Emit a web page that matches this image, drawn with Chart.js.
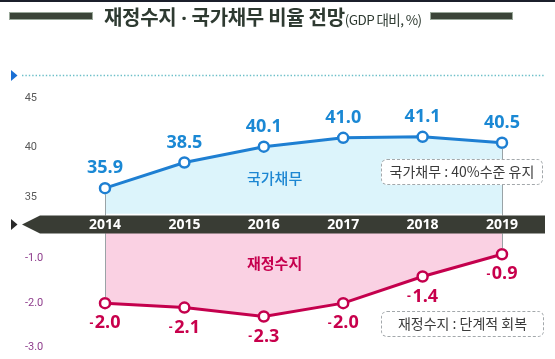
<!DOCTYPE html>
<html><head><meta charset="utf-8">
<script src="https://cdn.jsdelivr.net/npm/chart.js@4.4.1/dist/chart.umd.min.js"></script>
<style>
html,body{margin:0;padding:0;background:#fff;overflow:hidden}
#wrap{position:relative;width:555px;height:359px;background:#fff;font-family:"Noto Sans CJK KR","Noto Sans",sans-serif}
#c{position:absolute;left:0;top:0}
.ov{position:absolute;white-space:nowrap}
.bar{position:absolute;height:6px;background:#3b4438;top:13px;box-shadow:0 0 0 1px #9aa89a}
.note{position:absolute;border:1.3px dashed #a3a8ab;border-radius:6px;box-sizing:border-box;color:#3a3a3a;font-size:14px;line-height:23px;text-align:center;background:#fff}
</style></head>
<body><div id="wrap">
<canvas id="c" width="555" height="359"></canvas>
<div class="ov" style="left:0;top:0;width:555px;height:2px;background:#1b1f2b"></div>
<div class="bar" style="left:10px;width:82px"></div>
<div class="bar" style="left:431px;width:81px"></div>
<div class="ov" style="left:104px;top:3px;color:#2e3a31;font-weight:700;font-size:20px;line-height:28px;letter-spacing:-0.3px">재정수지<span style="font-family:'Noto Sans',sans-serif"> · </span>국가채무 비율 전망<span style="font-size:13.5px;font-weight:400;letter-spacing:-0.6px">(GDP 대비, %)</span></div>
<div class="ov" style="left:247px;top:167px;color:#1c86d2;font-size:15px;font-weight:500;line-height:22px">국가채무</div>
<div class="ov" style="left:247px;top:252px;color:#c6004e;font-size:15px;font-weight:700;line-height:22px">재정수지</div>
<div class="note" style="left:381px;top:159px;width:162px;height:26px">국가채무 : 40%수준 유지</div>
<div class="note" style="left:381px;top:311px;width:163px;height:26px">재정수지 : 단계적 회복</div>
</div>
<script>
// ---- data ----
const years = ['2014', '2015', '2016', '2017', '2018', '2019'];
const debtRatio = [35.9, 38.5, 40.1, 41.0, 41.1, 40.5];      // 국가채무 (% of GDP)
const balanceRatio = [-2.0, -2.1, -2.3, -2.0, -1.4, -0.9];  // 재정수지 (% of GDP)
const debtTicks = [45, 40, 35];
const balanceTicks = [-1.0, -2.0, -3.0];

// ---- layout constants ----
const TOP = 85, BOTTOM = 355;
const BAND_TOP = 215.5, BAND_BOT = 233.5;
const upPx = 10.0, upRef = 40, upRefY = 148.5;
const loPx = 45, loRef = -2, loRefY = 306;
const upMax = upRef + (upRefY - TOP) / upPx, upMin = upRef - (BOTTOM - upRefY) / upPx;
const loMax = loRef + (loRefY - TOP) / loPx, loMin = loRef - (BOTTOM - loRefY) / loPx;
const upFill = upRef - (BAND_TOP - upRefY) / upPx;
const loFill = loRef + (loRefY - BAND_BOT) / loPx;

const BLUE = '#1e7fd2', BLUE_T = '#1a88d4', RED = '#c4004d', RED_T = '#c8004c';
const NUMFONT = '"Open Sans","Liberation Sans",sans-serif';

const deco = {
  id: 'deco',
  beforeDraw(chart) {
    const ctx = chart.ctx;
    ctx.save();
    ctx.strokeStyle = '#6cbfc8';
    ctx.lineWidth = 1.4;
    ctx.setLineDash([1.4, 2]);
    ctx.beginPath(); ctx.moveTo(22, 75.5); ctx.lineTo(545, 75.5); ctx.stroke();
    ctx.setLineDash([]);
    ctx.fillStyle = '#1a6fd4';
    ctx.beginPath(); ctx.moveTo(11, 70); ctx.lineTo(17.5, 75.5); ctx.lineTo(11, 81); ctx.closePath(); ctx.fill();
    ctx.restore();
  },
  afterDatasetsDraw(chart) {
    const ctx = chart.ctx;
    const m0 = chart.getDatasetMeta(0), m1 = chart.getDatasetMeta(1);
    ctx.save();
    ctx.strokeStyle = '#9aa3a6'; ctx.lineWidth = 1;
    [0, years.length - 1].forEach(i => {
      const p = m0.data[i], q = m1.data[i];
      const x = Math.round(p.x) + 0.5;
      ctx.beginPath(); ctx.moveTo(x, p.y + 6); ctx.lineTo(x, BAND_TOP); ctx.stroke();
      ctx.beginPath(); ctx.moveTo(x, BAND_BOT); ctx.lineTo(x, q.y - 6); ctx.stroke();
    });
    ctx.fillStyle = '#393c34';
    const mid = (BAND_TOP + BAND_BOT) / 2;
    ctx.beginPath();
    ctx.moveTo(22, mid); ctx.lineTo(40, BAND_TOP); ctx.lineTo(545, BAND_TOP);
    ctx.lineTo(545, BAND_BOT); ctx.lineTo(40, BAND_BOT); ctx.closePath(); ctx.fill();
    ctx.fillStyle = '#2a2a2a';
    ctx.beginPath(); ctx.moveTo(11, mid - 5.5); ctx.lineTo(17.5, mid); ctx.lineTo(11, mid + 5.5); ctx.closePath(); ctx.fill();
    const xs = chart.scales.x;
    ctx.fillStyle = '#ffffff';
    ctx.font = 'bold 14px ' + NUMFONT;
    ctx.textAlign = 'center'; ctx.textBaseline = 'middle';
    years.forEach((y, i) => ctx.fillText(y, xs.getPixelForValue(i), mid + 0.5));
    ctx.fillStyle = BLUE_T;
    ctx.font = 'bold 18px ' + NUMFONT;
    m0.data.forEach((p, i) => ctx.fillText(debtRatio[i].toFixed(1), p.x, p.y - 20));
    ctx.fillStyle = RED_T;
    m1.data.forEach((p, i) => {
      const v = balanceRatio[i];
      const num = Math.abs(v).toFixed(1);
      ctx.font = 'bold 18px ' + NUMFONT;
      const nw = ctx.measureText(num).width;
      ctx.font = 'bold 12px ' + NUMFONT;
      const dw = ctx.measureText('-').width;
      const total = dw + 1.5 + nw;
      const x0 = p.x - total / 2;
      ctx.textAlign = 'left';
      ctx.fillText(v < 0 ? '-' : '', x0, p.y + 20);
      ctx.font = 'bold 18px ' + NUMFONT;
      ctx.fillText(num, x0 + dw + 1.5, p.y + 20);
    });
    ctx.restore();
  }
};

new Chart(document.getElementById('c'), {
  type: 'line',
  data: {
    labels: years,
    datasets: [
      {
        label: '국가채무', data: debtRatio, yAxisID: 'y',
        borderColor: BLUE, borderWidth: 3, backgroundColor: '#dcf4fb',
        fill: { value: upFill }, tension: 0, clip: false,
        pointRadius: 5, pointBorderWidth: 2.5, pointBackgroundColor: '#fff', pointBorderColor: BLUE
      },
      {
        label: '재정수지', data: balanceRatio, yAxisID: 'y2',
        borderColor: RED, borderWidth: 3, backgroundColor: '#fad1e3',
        fill: { value: loFill }, tension: 0, clip: false,
        pointRadius: 5, pointBorderWidth: 2.5, pointBackgroundColor: '#fff', pointBorderColor: RED
      }
    ]
  },
  options: {
    responsive: false, animation: false, devicePixelRatio: 1,
    layout: { padding: { left: 0, right: 53, top: TOP, bottom: 359 - BOTTOM } },
    plugins: { legend: { display: false }, tooltip: { enabled: false }, title: { display: false } },
    scales: {
      x: { type: 'category', display: false, offset: false },
      y: {
        type: 'linear', position: 'left', min: upMin, max: upMax,
        grid: { display: false, drawTicks: false }, border: { display: false },
        afterBuildTicks: s => { s.ticks = debtTicks.map(v => ({ value: v })); },
        afterFit: s => { s.width = 105; s.paddingTop = 0; s.paddingBottom = 0; },
        ticks: { padding: 68, color: '#5a5a5a', font: { family: 'Roboto, "Noto Sans", sans-serif', size: 11 }, callback: v => String(v) }
      },
      y2: {
        type: 'linear', position: 'left', min: loMin, max: loMax,
        grid: { display: false, drawTicks: false }, border: { display: false },
        afterBuildTicks: s => { s.ticks = balanceTicks.map(v => ({ value: v })); },
        afterFit: s => { s.width = 0; s.paddingTop = 0; s.paddingBottom = 0; },
        ticks: { mirror: true, padding: 25, color: '#8e3d8c', font: { family: 'Roboto, "Noto Sans", sans-serif', size: 11 }, callback: v => Number(v).toFixed(1) }
      }
    }
  },
  plugins: [deco]
});
</script>
</body></html>
